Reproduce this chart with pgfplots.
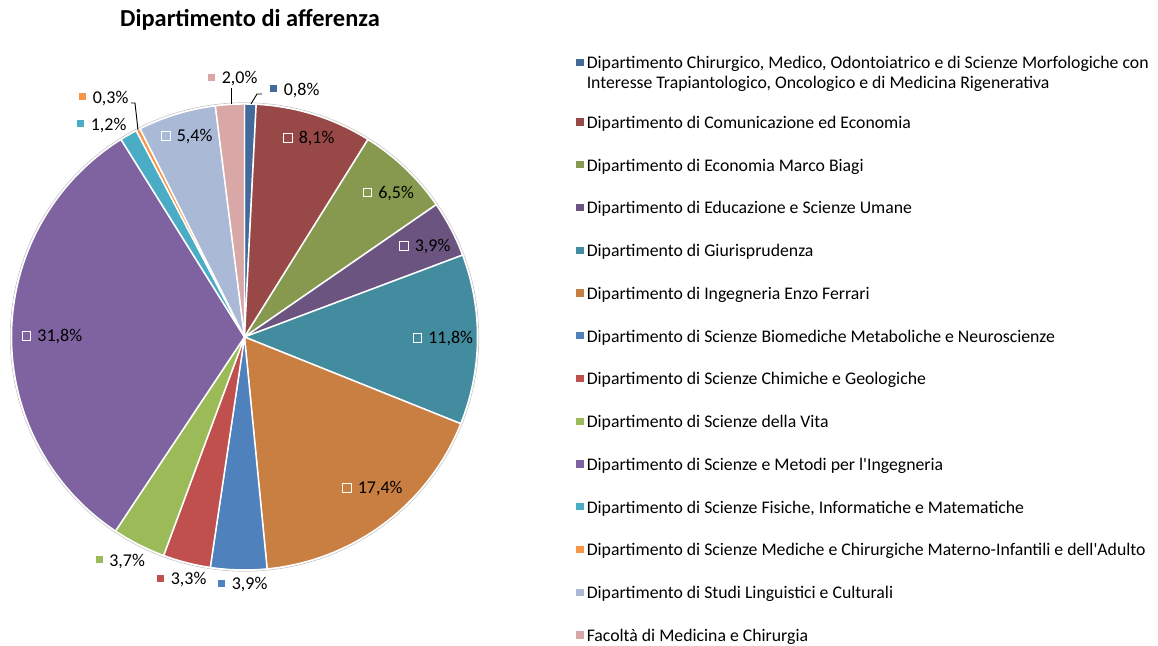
\documentclass[border=0pt]{standalone}
\usepackage{pgfplots}
\pgfplotsset{compat=1.18}
\usepackage{pgfplotstable}
\usepackage{fontspec}
\setmainfont{Carlito}
\newfontfamily\lgfont{Carlito}

\definecolor{c0}{HTML}{44699B}
\definecolor{c1}{HTML}{984846}
\definecolor{c2}{HTML}{87994F}
\definecolor{c3}{HTML}{6B5580}
\definecolor{c4}{HTML}{438B9E}
\definecolor{c5}{HTML}{C97E42}
\definecolor{c6}{HTML}{4F81BD}
\definecolor{c7}{HTML}{C0504D}
\definecolor{c8}{HTML}{9BBB59}
\definecolor{c9}{HTML}{7E63A0}
\definecolor{c10}{HTML}{4BACC6}
\definecolor{c11}{HTML}{F79646}
\definecolor{c12}{HTML}{AAB9D6}
\definecolor{c13}{HTML}{D8A7A6}

% idx, value (%), label type (1 = inside, 0 = outside), label key position (px), legend key y (px)
\pgfplotstableread{
idx v    type lx    ly    legy
0   0.8  0    273.5 88.5  62.5
1   8.1  1    288   138   122
2   6.5  1    367.5 192.5 164.75
3   3.9  1    404   246   207.5
4   11.8 1    417.5 338   250.25
5   17.4 1    347   488   293
6   3.9  0    221.5 583   335.75
7   3.3  0    160.5 578   378.5
8   3.7  0    99    559.5 421.25
9   31.8 1    26.7  336   464
10  1.2  0    80.5  123.5 506.75
11  0.3  0    82.5  96.7  549.5
12  5.4  1    166   136   592.25
13  2.0  0    211.5 77    635
}\piedata

\begin{document}%
\begin{tikzpicture}
\def\pietotal{0}
\pgfplotsforeachungrouped \i in {0,...,13}{%
  \pgfplotstablegetelem{\i}{v}\of\piedata
  \pgfmathsetmacro\pietotal{\pietotal+\pgfplotsretval}%
}
\def\piecum{0}
\pgfplotsforeachungrouped \i in {0,...,13}{%
  \pgfplotstablegetelem{\i}{v}\of\piedata \let\pieV\pgfplotsretval
  \pgfmathsetmacro\pieSA{90-(\piecum/\pietotal)*360}%
  \pgfmathsetmacro\piecum{\piecum+\pieV}%
  \pgfmathsetmacro\pieEA{90-(\piecum/\pietotal)*360}%
  \expandafter\xdef\csname piesa\i\endcsname{\pieSA}%
  \expandafter\xdef\csname pieea\i\endcsname{\pieEA}%
  \expandafter\xdef\csname pieval\i\endcsname{\pieV}%
  \pgfplotstablegetelem{\i}{type}\of\piedata
  \expandafter\xdef\csname pietype\i\endcsname{\pgfplotsretval}%
  \pgfplotstablegetelem{\i}{lx}\of\piedata
  \expandafter\xdef\csname pielx\i\endcsname{\pgfplotsretval}%
  \pgfplotstablegetelem{\i}{ly}\of\piedata
  \pgfmathsetmacro\tmp{646-\pgfplotsretval}%
  \expandafter\xdef\csname piely\i\endcsname{\tmp}%
  \pgfplotstablegetelem{\i}{legy}\of\piedata
  \pgfmathsetmacro\tmp{646-\pgfplotsretval}%
  \expandafter\xdef\csname pielegy\i\endcsname{\tmp}%
}
\begin{axis}[hide axis, x=0.75pt, y=0.75pt, xmin=0, xmax=1158, ymin=0, ymax=646,
  scale only axis, clip=false, enlargelimits=false]
\path (axis cs:0,0) rectangle (axis cs:1158,646);
% faint outer rim
\draw[black!22, line width=0.5pt] (axis cs:244.5,309) circle[radius=175.7pt];
% slices
\pgfplotsinvokeforeach{0,...,13}{
  \fill[c#1, draw=white, line width=1.1pt, line join=round]
    (axis cs:244.5,309) -- ++(\csname piesa#1\endcsname:174.75pt)
    arc[start angle=\csname piesa#1\endcsname, end angle=\csname pieea#1\endcsname, radius=174.75pt] -- cycle;
}
% data labels
\pgfplotsinvokeforeach{0,...,13}{
  \ifnum\csname pietype#1\endcsname=1
    \node[draw=white, line width=0.75pt, minimum size=6.4pt, inner sep=0pt]
      at (axis cs:\csname pielx#1\endcsname,\csname piely#1\endcsname) {};
    \node[anchor=base west, inner sep=0pt, font=\fontsize{13.5pt}{16pt}\selectfont]
      at (axis cs:\csname pielx#1\endcsname+10.5,\csname piely#1\endcsname-6)
      {\pgfmathprintnumber[fixed, fixed zerofill, precision=1, use comma, assume math mode=true]{\csname pieval#1\endcsname}\%};
  \else
    \node[fill=c#1, draw=white, line width=0.3pt, minimum size=6pt, inner sep=0pt]
      at (axis cs:\csname pielx#1\endcsname,\csname piely#1\endcsname) {};
    \node[anchor=base west, inner sep=0pt, font=\fontsize{13.5pt}{16pt}\selectfont]
      at (axis cs:\csname pielx#1\endcsname+10,\csname piely#1\endcsname-6.8)
      {\pgfmathprintnumber[fixed, fixed zerofill, precision=1, use comma, assume math mode=true]{\csname pieval#1\endcsname}\%};
  \fi
}
% leader lines
\draw[black, line width=0.7pt] (axis cs:251,542) -- (axis cs:257,552) -- (axis cs:262,552);
\draw[black, line width=0.7pt] (axis cs:231,542) -- (axis cs:231,558);
\draw[black, line width=0.7pt] (axis cs:131,543) -- (axis cs:135,543) -- (axis cs:138,516);
% title
\node[anchor=base, inner sep=0pt, font=\fontsize{18.3pt}{22pt}\selectfont\bfseries]
  at (axis cs:250,619.5) {Dipartimento di afferenza};
% legend keys
\pgfplotsinvokeforeach{0,...,13}{
  \node[fill=c#1, minimum size=5.3pt, inner sep=0pt]
    at (axis cs:580,\csname pielegy#1\endcsname) {};
}
% legend texts
\begin{scope}[every node/.style={anchor=base west, inner sep=0pt, font=\lgfont\fontsize{13.3pt}{16pt}\selectfont}]
\node at (axis cs:586.5,577.3) {Dipartimento Chirurgico, Medico, Odontoiatrico e di Scienze Morfologiche con};
\node at (axis cs:586.5,557.3) {Interesse Trapiantologico, Oncologico e di Medicina Rigenerativa};
\node at (axis cs:586.5,517.7) {Dipartimento di Comunicazione ed Economia};
\node at (axis cs:586.5,474.95) {Dipartimento di Economia Marco Biagi};
\node at (axis cs:586.5,432.2) {Dipartimento di Educazione e Scienze Umane};
\node at (axis cs:586.5,389.45) {Dipartimento di Giurisprudenza};
\node at (axis cs:586.5,346.7) {Dipartimento di Ingegneria Enzo Ferrari};
\node at (axis cs:586.5,303.95) {Dipartimento di Scienze Biomediche Metaboliche e Neuroscienze};
\node at (axis cs:586.5,261.2) {Dipartimento di Scienze Chimiche e Geologiche};
\node at (axis cs:586.5,218.45) {Dipartimento di Scienze della Vita};
\node at (axis cs:586.5,175.7) {Dipartimento di Scienze e Metodi per l'Ingegneria};
\node at (axis cs:586.5,132.95) {Dipartimento di Scienze Fisiche, Informatiche e Matematiche};
\node at (axis cs:586.5,90.2) {Dipartimento di Scienze Mediche e Chirurgiche Materno-Infantili e dell'Adulto};
\node at (axis cs:586.5,47.45) {Dipartimento di Studi Linguistici e Culturali};
\node at (axis cs:586.5,4.7) {Facoltà di Medicina e Chirurgia};
\end{scope}
\end{axis}
\end{tikzpicture}%
\end{document}
